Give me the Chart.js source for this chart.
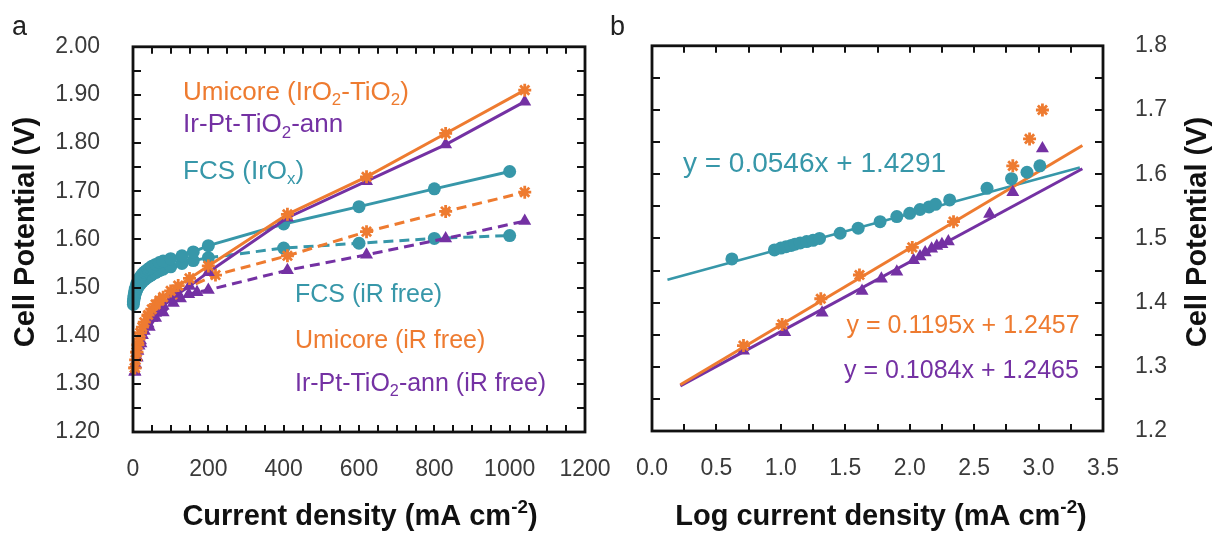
<!DOCTYPE html>
<html>
<head>
<meta charset="utf-8">
<title>Cell potential vs current density</title>
<script src="https://cdn.jsdelivr.net/npm/chart.js@4.4.1/dist/chart.umd.min.js"></script>
<style>
  html, body { margin: 0; padding: 0; background: #fff; }
  #wrap { position: relative; width: 1217px; height: 536px; overflow: hidden; background: #fff; }
  #cvA { position: absolute; left: 0; top: 0; }
  #cvB { position: absolute; left: 600px; top: 0; }
</style>
</head>
<body>
<div id="wrap">
  <canvas id="cvA" width="640" height="536"></canvas>
  <canvas id="cvB" width="617" height="536"></canvas>
</div>
<script>
// ── Panel a · polarisation curves (mA cm-2 → V) ──
const curFcs = [1, 2, 3, 4, 5, 6, 8, 10, 12, 15, 18, 20, 25, 30, 35, 40, 45, 50, 60, 70, 80, 100, 130, 160, 200, 400, 600, 800, 1000];
const vFcs = [1.470, 1.478, 1.484, 1.489, 1.493, 1.497, 1.502, 1.507, 1.511, 1.516, 1.520, 1.523, 1.528, 1.532, 1.535, 1.538, 1.541, 1.544, 1.548, 1.552, 1.555, 1.560, 1.566, 1.574, 1.587, 1.632, 1.668, 1.705, 1.741];
const vFcsIrFree = [1.465, 1.472, 1.477, 1.481, 1.485, 1.488, 1.492, 1.496, 1.499, 1.503, 1.506, 1.508, 1.512, 1.516, 1.519, 1.522, 1.524, 1.527, 1.531, 1.535, 1.538, 1.543, 1.550, 1.556, 1.562, 1.582, 1.592, 1.602, 1.608];

const curUmi = [5, 7, 10, 13, 16, 20, 25, 30, 40, 50, 60, 70, 80, 100, 120, 150, 200, 410, 620, 830, 1040];
const vUmi = [1.333, 1.350, 1.366, 1.381, 1.393, 1.406, 1.418, 1.428, 1.443, 1.455, 1.465, 1.473, 1.480, 1.493, 1.504, 1.519, 1.545, 1.652, 1.730, 1.820, 1.910];
const curUmiIrFree = [5, 10, 20, 40, 105, 219, 410, 620, 830, 1040];
const vUmiIrFree = [1.333, 1.366, 1.406, 1.441, 1.486, 1.526, 1.566, 1.616, 1.658, 1.698];

const curIrPt = [5, 7, 10, 13, 16, 20, 25, 30, 40, 50, 60, 70, 80, 100, 120, 150, 200, 410, 620, 830, 1040];
const vIrPt = [1.325, 1.340, 1.355, 1.368, 1.379, 1.390, 1.401, 1.410, 1.425, 1.437, 1.447, 1.455, 1.462, 1.475, 1.487, 1.503, 1.532, 1.645, 1.721, 1.797, 1.886];
const curIrPtIrFree = [5, 11, 21, 43, 60, 80, 107, 126, 148, 170, 200, 410, 620, 830, 1040];
const vIrPtIrFree = [1.325, 1.354, 1.384, 1.418, 1.437, 1.448, 1.468, 1.477, 1.486, 1.490, 1.495, 1.536, 1.568, 1.602, 1.638];

const xTicksA = [0, 200, 400, 600, 800, 1000, 1200];
const yTicksA = [1.2, 1.3, 1.4, 1.5, 1.6, 1.7, 1.8, 1.9, 2.0];

// ── Panel b · Tafel plot (log mA cm-2 → V) ──
const logFcs = [0.62, 0.95, 1.00, 1.04, 1.08, 1.11, 1.15, 1.20, 1.25, 1.30, 1.46, 1.60, 1.77, 1.90, 2.00, 2.08, 2.15, 2.20, 2.31, 2.60, 2.79, 2.91, 3.01];
const vLogFcs = [1.468, 1.482, 1.485, 1.487, 1.489, 1.491, 1.493, 1.495, 1.497, 1.500, 1.508, 1.516, 1.526, 1.534, 1.539, 1.545, 1.549, 1.553, 1.560, 1.578, 1.593, 1.603, 1.613];
const logUmi = [0.71, 1.01, 1.31, 1.61, 2.02, 2.34, 2.80, 2.93, 3.03];
const vLogUmi = [1.333, 1.366, 1.406, 1.443, 1.486, 1.526, 1.613, 1.655, 1.700];
const logIrPt = [0.71, 1.03, 1.32, 1.63, 1.78, 1.90, 2.03, 2.08, 2.12, 2.17, 2.21, 2.25, 2.30, 2.62, 2.80, 3.03];
const vLogIrPt = [1.325, 1.354, 1.384, 1.418, 1.437, 1.448, 1.466, 1.472, 1.478, 1.484, 1.488, 1.491, 1.495, 1.538, 1.572, 1.640];

// linear fits: FCS, Umicore, Ir-Pt-TiO2-ann
const fitSlope = [0.0546, 0.1195, 0.1084];
const fitIntercept = [1.4291, 1.2457, 1.2465];
const fitFrom = [0.12, 0.22, 0.22];
const fitTo = [3.32, 3.34, 3.34];
const fitText = ['y = 0.0546x + 1.4291', 'y = 0.1195x + 1.2457', 'y = 0.1084x + 1.2465'];

const xTicksB = [0, 0.5, 1, 1.5, 2, 2.5, 3, 3.5];
const yTicksB = [1.2, 1.3, 1.4, 1.5, 1.6, 1.7, 1.8];

// colours
const TEAL = '#3797A9';
const ORANGE = '#EE7B30';
const PURPLE = '#7431A3';
const FONT = "'Liberation Sans', Arial, Helvetica, sans-serif";

Chart.defaults.font.family = FONT;

const pts = (xs, ys) => xs.map((x, i) => ({ x, y: ys[i] }));

function fitLine(i) {
  const f = (x) => fitSlope[i] * x + fitIntercept[i];
  return [{ x: fitFrom[i], y: f(fitFrom[i]) }, { x: fitTo[i], y: f(fitTo[i]) }];
}

// texto con subíndices / superíndices: parts = [[txt, 'sub'|'sup'|undefined], ...]
function richWidth(ctx, parts, size, weight) {
  let w = 0;
  for (const [t, m] of parts) {
    ctx.font = `${weight} ${m ? size * 0.65 : size}px ${FONT}`;
    w += ctx.measureText(t).width;
  }
  return w;
}
function drawRich(ctx, parts, x, y, size, color, weight = 'normal', align = 'left') {
  let cx = align === 'center' ? x - richWidth(ctx, parts, size, weight) / 2 : x;
  ctx.fillStyle = color;
  ctx.textBaseline = 'middle';
  ctx.textAlign = 'left';
  for (const [t, m] of parts) {
    ctx.font = `${weight} ${m ? size * 0.65 : size}px ${FONT}`;
    const dy = m === 'sub' ? size * 0.3 : m === 'sup' ? -size * 0.32 : 0;
    ctx.fillText(t, cx, y + dy);
    cx += ctx.measureText(t).width;
  }
}

// marco negro + marcas hacia dentro en los 4 lados
function drawFrame(chart, xStep, yStep) {
  const { ctx, chartArea: a } = chart;
  const xs = chart.scales.x, ys = chart.scales.y;
  ctx.save();
  ctx.strokeStyle = '#111';
  ctx.lineWidth = 2;
  ctx.beginPath();
  const nx = Math.round((xs.max - xs.min) / xStep);
  for (let i = 1; i < nx; i++) {
    const px = Math.round(xs.getPixelForValue(xs.min + i * xStep));
    ctx.moveTo(px, a.bottom); ctx.lineTo(px, a.bottom - 7);
    ctx.moveTo(px, a.top); ctx.lineTo(px, a.top + 7);
  }
  const ny = Math.round((ys.max - ys.min) / yStep);
  for (let i = 1; i < ny; i++) {
    const py = Math.round(ys.getPixelForValue(ys.min + i * yStep));
    ctx.moveTo(a.left, py); ctx.lineTo(a.left + 8, py);
    ctx.moveTo(a.right, py); ctx.lineTo(a.right - 8, py);
  }
  ctx.stroke();
  ctx.lineWidth = 2.8;
  ctx.strokeRect(a.left, a.top, a.right - a.left, a.bottom - a.top);
  ctx.restore();
}

const X_TITLE_A = [['Current density (mA cm', ''], ['-2', 'sup'], [')', '']];
const X_TITLE_B = [['Log current density (mA cm', ''], ['-2', 'sup'], [')', '']];
const Y_TITLE = [['Cell Potential (V)', '']];

const decorA = {
  id: 'decorA',
  afterDatasetsDraw(chart) {
    const { ctx } = chart;
    const xs = chart.scales.x, ys = chart.scales.y;
    drawFrame(chart, 50, 0.05);
    const notes = [
      { parts: [['Umicore (IrO'], ['2', 'sub'], ['-TiO'], ['2', 'sub'], [')']], c: ORANGE, x: 133, y: 1.905, s: 26 },
      { parts: [['Ir-Pt-TiO'], ['2', 'sub'], ['-ann']], c: PURPLE, x: 133, y: 1.837, s: 26 },
      { parts: [['FCS (IrO'], ['x', 'sub'], [')']], c: TEAL, x: 133, y: 1.741, s: 26 },
      { parts: [['FCS (iR free)']], c: TEAL, x: 430, y: 1.485, s: 25 },
      { parts: [['Umicore (iR free)']], c: ORANGE, x: 430, y: 1.389, s: 25 },
      { parts: [['Ir-Pt-TiO'], ['2', 'sub'], ['-ann (iR free)']], c: PURPLE, x: 430, y: 1.300, s: 25 }
    ];
    ctx.save();
    for (const n of notes) {
      drawRich(ctx, n.parts, xs.getPixelForValue(n.x), ys.getPixelForValue(n.y), n.s, n.c);
    }
    drawRich(ctx, [['a']], 12, 28, 27, '#222');
    drawRich(ctx, X_TITLE_A, 360, 517, 29, '#111', 'bold', 'center');
    ctx.translate(26, 232);
    ctx.rotate(-Math.PI / 2);
    drawRich(ctx, Y_TITLE, 0, 0, 29, '#111', 'bold', 'center');
    ctx.restore();
  }
};

const decorB = {
  id: 'decorB',
  afterDatasetsDraw(chart) {
    const { ctx } = chart;
    const xs = chart.scales.x, ys = chart.scales.y;
    drawFrame(chart, 0.25, 0.05);
    const eq = [
      { c: TEAL, x: 0.24, y: 1.616, s: 28 },
      { c: ORANGE, x: 1.51, y: 1.364, s: 25 },
      { c: PURPLE, x: 1.49, y: 1.294, s: 25 }
    ];
    ctx.save();
    eq.forEach((e, i) => {
      drawRich(ctx, [[fitText[i]]], xs.getPixelForValue(e.x), ys.getPixelForValue(e.y), e.s, e.c);
    });
    drawRich(ctx, [['b']], 10, 28, 27, '#222');
    drawRich(ctx, X_TITLE_B, 281, 517, 29, '#111', 'bold', 'center');
    ctx.translate(598, 232);
    ctx.rotate(-Math.PI / 2);
    drawRich(ctx, Y_TITLE, 0, 0, 29, '#111', 'bold', 'center');
    ctx.restore();
  }
};

function serie(label, data, color, style, dashed, line = true) {
  return {
    label, data,
    showLine: line,
    borderColor: color,
    backgroundColor: color,
    borderWidth: 3,
    borderDash: dashed ? [10, 6] : [],
    pointStyle: style,
    pointRadius: style === 'triangle' ? 7.5 : 6.5,
    pointBorderWidth: style === 'star' ? 2.8 : 0,
    pointBorderColor: color,
    pointBackgroundColor: color,
    clip: false
  };
}

const tickFont = { size: 23 };
const tickColor = '#3a3a3a';

// ── chart a ──
new Chart(document.getElementById('cvA'), {
  type: 'scatter',
  data: {
    datasets: [
      serie('Umicore', pts(curUmi, vUmi), ORANGE, 'star', false),
      serie('Ir-Pt-TiO2-ann', pts(curIrPt, vIrPt), PURPLE, 'triangle', false),
      serie('FCS', pts(curFcs, vFcs), TEAL, 'circle', false),
      serie('Umicore iR free', pts(curUmiIrFree, vUmiIrFree), ORANGE, 'star', true),
      serie('Ir-Pt-TiO2-ann iR free', pts(curIrPtIrFree, vIrPtIrFree), PURPLE, 'triangle', true),
      serie('FCS iR free', pts(curFcs, vFcsIrFree), TEAL, 'circle', true)
    ]
  },
  options: {
    responsive: false,
    animation: false,
    layout: { padding: { top: 30, right: 55, left: 0, bottom: 0 } },
    plugins: { legend: { display: false }, tooltip: { enabled: false } },
    scales: {
      x: {
        type: 'linear', min: 0, max: 1200,
        afterBuildTicks: (s) => { s.ticks = xTicksA.map((v) => ({ value: v })); },
        afterFit: (s) => { s.height = 104; },
        grid: { display: false, drawTicks: false },
        border: { display: false },
        ticks: { font: tickFont, color: tickColor, padding: 24, maxRotation: 0, autoSkip: false, callback: (v) => String(v) }
      },
      y: {
        type: 'linear', min: 1.2, max: 2.0,
        afterBuildTicks: (s) => { s.ticks = yTicksA.map((v) => ({ value: v })); },
        afterFit: (s) => { s.width = 133; },
        grid: { display: false, drawTicks: false },
        border: { display: false },
        ticks: { font: tickFont, color: tickColor, padding: 33, autoSkip: false, callback: (v) => (+v).toFixed(2) }
      }
    }
  },
  plugins: [decorA]
});

// ── chart b ──
new Chart(document.getElementById('cvB'), {
  type: 'scatter',
  data: {
    datasets: [
      serie('Umicore', pts(logUmi, vLogUmi), ORANGE, 'star', false, false),
      serie('Ir-Pt-TiO2-ann', pts(logIrPt, vLogIrPt), PURPLE, 'triangle', false, false),
      serie('FCS', pts(logFcs, vLogFcs), TEAL, 'circle', false, false),
      { ...serie('fit Umicore', fitLine(1), ORANGE, 'circle', false), pointRadius: 0, borderWidth: 3 },
      { ...serie('fit Ir-Pt', fitLine(2), PURPLE, 'circle', false), pointRadius: 0, borderWidth: 3 },
      { ...serie('fit FCS', fitLine(0), TEAL, 'circle', false), pointRadius: 0, borderWidth: 2.5 }
    ]
  },
  options: {
    responsive: false,
    animation: false,
    layout: { padding: { top: 30, right: 0, left: 52, bottom: 0 } },
    plugins: { legend: { display: false }, tooltip: { enabled: false } },
    scales: {
      x: {
        type: 'linear', min: 0, max: 3.5,
        afterBuildTicks: (s) => { s.ticks = xTicksB.map((v) => ({ value: v })); },
        afterFit: (s) => { s.height = 105; },
        grid: { display: false, drawTicks: false },
        border: { display: false },
        ticks: { font: tickFont, color: tickColor, padding: 24, maxRotation: 0, autoSkip: false, callback: (v) => (+v).toFixed(1) }
      },
      y: {
        type: 'linear', position: 'right', min: 1.2, max: 1.8,
        afterBuildTicks: (s) => { s.ticks = yTicksB.map((v) => ({ value: v })); },
        afterFit: (s) => { s.width = 114; },
        grid: { display: false, drawTicks: false },
        border: { display: false },
        ticks: { font: tickFont, color: tickColor, padding: 32, autoSkip: false, callback: (v) => (+v).toFixed(1) }
      }
    }
  },
  plugins: [decorB]
});
</script>
</body>
</html>
